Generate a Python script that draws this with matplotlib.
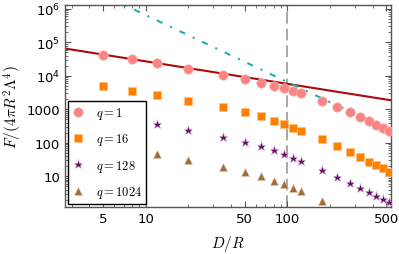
import matplotlib
matplotlib.use('Agg')
import matplotlib.pyplot as plt
from matplotlib.ticker import FixedLocator, FixedFormatter, LogLocator, NullFormatter

# data (D/R on x, F/(4 pi R^2 Lambda^4) on y)
d_q1 = [5, 8, 12, 20, 35, 50, 65, 80, 95, 110, 125, 175, 225, 275, 325, 375, 425, 475, 525]
f_q1 = [43400, 31400, 23800, 16300, 10900, 8130, 6300, 5020, 4250, 3560, 3050,
        1820, 1180, 813, 592, 459, 349, 277, 226]

d_q16 = [5, 8, 12, 20, 35, 50, 65, 80, 95, 110, 125, 175, 225, 275, 325, 375, 425, 475, 525]
f_q16 = [5020, 3460, 2630, 1800, 1190, 813, 634, 459, 366, 283, 230,
         130, 80, 53, 36.6, 27.2, 21.6, 17.1, 13.6]

d_q128 = [12, 20, 35, 50, 65, 80, 95, 110, 125, 175, 225, 275, 325, 375, 425, 475, 525]
f_q128 = [373, 247, 149, 106, 80, 59, 47, 35.8, 29.1, 15.7, 9.5, 6.4, 4.6, 3.4, 2.55, 2.07, 1.69]

d_q1024 = [12, 20, 35, 50, 65, 80, 95, 110, 125, 175]
f_q1024 = [45.6, 31.6, 18.8, 13.8, 10.0, 7.3, 5.8, 4.4, 3.6, 1.85]

# asymptotes (end points)
red_x = [2.7, 540]
red_y = [65600, 1860]
cyan_x = [3, 540]
cyan_y = [7.3e6, 226]
d_mark = 100

yticks = [10, 100, 1000, 1e4, 1e5, 1e6]
ytick_labels = ['10', '100', '1000', '$10^4$', '$10^5$', '$10^6$']
xticks = [5, 10, 50, 100, 500]
xtick_labels = ['5', '10', '50', '100', '500']


def main():
    fig = plt.figure(figsize=(3.99, 2.55), dpi=100)
    ax = fig.add_axes([0.163, 0.184, 0.817, 0.792])

    ax.axvline(d_mark, color='#999999', lw=1.2, ls=(0, (7, 3)), zorder=1)
    ax.plot(red_x, red_y, '-', color='#aa0a0a', lw=1.5, zorder=2)
    ax.plot(cyan_x, cyan_y, color='#1ab0b0', lw=1.5, ls=(0, (3, 4, 1, 4)), zorder=2)

    ax.plot(d_q1, f_q1, 'o', ms=6.8, color='#fa8484', mec='#ffb0b0', mew=0.5,
            label='$q=1$', zorder=3)
    ax.plot(d_q16, f_q16, 's', ms=5.2, color='#ff8000', mec='#ffc080', mew=0.5,
            label='$q=16$', zorder=3)
    ax.plot(d_q128, f_q128, '*', ms=6.5, color='#6a0a6a', mec='#d0b0d0', mew=0.4,
            label='$q=128$', zorder=3)
    ax.plot(d_q1024, f_q1024, '^', ms=5.5, color='#a06c38', mec='#e0c8b0', mew=0.4,
            label='$q=1024$', zorder=3)

    ax.set_xscale('log')
    ax.set_yscale('log')
    ax.set_xlim(2.7, 540)
    ax.set_ylim(1.2, 1.3e6)

    ax.xaxis.set_major_locator(FixedLocator(xticks))
    ax.xaxis.set_major_formatter(FixedFormatter(xtick_labels))
    ax.xaxis.set_minor_locator(LogLocator(base=10, subs=range(1, 10), numticks=20))
    ax.xaxis.set_minor_formatter(NullFormatter())
    ax.yaxis.set_major_locator(FixedLocator(yticks))
    ax.yaxis.set_major_formatter(FixedFormatter(ytick_labels))
    ax.yaxis.set_minor_locator(LogLocator(base=10, subs=range(2, 10), numticks=20))
    ax.yaxis.set_minor_formatter(NullFormatter())

    ax.tick_params(which='both', direction='in', top=True, right=True,
                   color='#555555', labelsize=9.5)
    ax.tick_params(which='major', length=4, width=0.8)
    ax.tick_params(which='minor', length=2, width=0.6)
    for s in ax.spines.values():
        s.set_color('#555555')
        s.set_linewidth(1.0)

    ax.set_xlabel('$D/R$', fontsize=11, math_fontfamily='cm', labelpad=6)
    ax.set_ylabel(r'$F/(4\pi R^2\Lambda^4)$', fontsize=11, math_fontfamily='cm', labelpad=2)

    leg = ax.legend(loc='lower left', bbox_to_anchor=(0.0, 0.0), borderaxespad=0.25,
                    fancybox=False, framealpha=1, edgecolor='black', labelspacing=0.83,
                    handlelength=1.0, handletextpad=0.9, borderpad=0.3,
                    prop={'size': 9, 'math_fontfamily': 'cm'})
    leg.get_frame().set_linewidth(1.0)
    leg.set_zorder(5)

    fig.savefig('out.png', dpi=100)


if __name__ == '__main__':
    main()
